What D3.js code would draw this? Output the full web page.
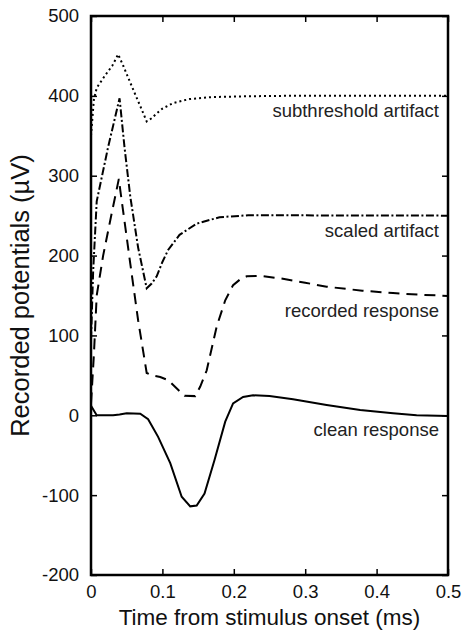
<!DOCTYPE html>
<html><head><meta charset="utf-8">
<script src="https://cdn.jsdelivr.net/npm/d3@7"></script>
<style>
html,body{margin:0;padding:0;background:#fff;}
svg{display:block;font-family:"Liberation Sans",Arial,sans-serif;}
</style></head>
<body><svg id="chart" width="463" height="631"></svg>
<script>
// ---- data (time in ms, potential in µV) ----
const subthresholdArtifact = [[0,350],[0.004,395],[0.008,410],[0.02,426],[0.03,438],[0.038,452],[0.045,438],[0.059,408],[0.07,385],[0.078,368],[0.085,372],[0.092,378],[0.1,384],[0.115,391],[0.138,396],[0.17,398.5],[0.22,399.5],[0.27,400],[0.5,400]];
const scaledArtifact = [[0,95],[0.003,180],[0.008,268],[0.024,336],[0.04,397],[0.047,335],[0.055,274],[0.066,210],[0.078,159],[0.085,165],[0.092,174],[0.1,192],[0.108,207],[0.124,226],[0.148,240],[0.18,248],[0.22,250.5],[0.5,250]];
const recordedResponse = [[0,15],[0.004,75],[0.008,150],[0.017,200],[0.029,253],[0.039,296],[0.041,282],[0.055,190],[0.066,119],[0.078,53],[0.085,50],[0.097,48],[0.108,44],[0.122,32],[0.131,24.5],[0.146,24],[0.153,36],[0.162,56],[0.176,111],[0.188,144],[0.199,163],[0.21,171],[0.218,174],[0.237,174.5],[0.265,171.5],[0.3,166],[0.33,161],[0.38,156],[0.423,153],[0.46,151],[0.5,149.5]];
const cleanResponse = [[0,12],[0.008,0],[0.02,0],[0.031,0],[0.04,1],[0.05,2.5],[0.069,2],[0.08,-5],[0.094,-27],[0.111,-60],[0.127,-102],[0.139,-114],[0.148,-113],[0.159,-98],[0.173,-56],[0.188,-8],[0.199,15],[0.213,23],[0.227,25],[0.25,24],[0.283,20],[0.33,13],[0.377,6.6],[0.423,2.5],[0.456,0],[0.5,-1]];

const seriesNames = ["subthreshold artifact","scaled artifact","recorded response","clean response"];
const seriesLabelY = [400,250,150,0];
const xTicks = [0,0.1,0.2,0.3,0.4,0.5];
const yTicks = [-200,-100,0,100,200,300,400,500];
const xTitle = "Time from stimulus onset (ms)";
const yTitle = "Recorded potentials (µV)";

// ---- layout ----
const L = 91, R = 448, T = 16, B = 575;
const svg = d3.select("#chart");
const x = d3.scaleLinear().domain([0,0.5]).range([L,R]);
const y = d3.scaleLinear().domain([-200,500]).range([B,T]);
const tickLen = 6;
const styleTicks = g => {
  g.select(".domain").remove();
  g.selectAll("text").attr("font-size",18.5).attr("fill","#111").attr("font-family","Liberation Sans, Arial");
  g.selectAll("line").attr("stroke","#000").attr("stroke-width",1.5);
};

// axes
const fmtX = d => d===0 ? "0" : d3.format(".1f")(d);
svg.append("g").attr("transform",`translate(0,${B})`)
  .call(d3.axisBottom(x).tickValues(xTicks).tickSize(-tickLen).tickPadding(10).tickFormat(fmtX))
  .call(styleTicks);
svg.append("g").attr("transform",`translate(0,${T})`)
  .call(d3.axisTop(x).tickValues(xTicks).tickSize(-tickLen).tickFormat(""))
  .call(styleTicks);
svg.append("g").attr("transform",`translate(${L},0)`)
  .call(d3.axisLeft(y).tickValues(yTicks).tickSize(-tickLen).tickPadding(12).tickFormat(d=>String(d)))
  .call(styleTicks);
svg.append("g").attr("transform",`translate(${R},0)`)
  .call(d3.axisRight(y).tickValues(yTicks).tickSize(-tickLen).tickFormat(""))
  .call(styleTicks);

// lines
const line = d3.line().x(d=>x(d[0])).y(d=>y(d[1]));
const data = [subthresholdArtifact, scaledArtifact, recordedResponse, cleanResponse];
const dashes = ["2,3","8,2.5,2,2.5","11,7",null];
const plot = svg.append("g");
data.forEach((s,i)=>{
  plot.append("path").datum(s).attr("d",line).attr("fill","none")
    .attr("stroke","#000").attr("stroke-width",2)
    .attr("stroke-dasharray",dashes[i]);
});

// labels
seriesNames.forEach((n,i)=>{
  svg.append("text").attr("x",x(0.5)-9).attr("y",y(seriesLabelY[i])+21)
    .attr("text-anchor","end").attr("font-size",18.5).attr("fill","#222").text(n);
});

// frame
svg.append("rect").attr("x",L).attr("y",T).attr("width",R-L).attr("height",B-T)
  .attr("fill","none").attr("stroke","#000").attr("stroke-width",2.5);

// titles
svg.append("text").attr("x",(L+R)/2).attr("y",625).attr("text-anchor","middle")
  .attr("font-size",22.5).attr("fill","#111").text(xTitle);
svg.append("text").attr("transform",`translate(29,${(T+B)/2}) rotate(-90)`)
  .attr("text-anchor","middle").attr("font-size",25.5).attr("fill","#111").text(yTitle);
</script></body></html>
